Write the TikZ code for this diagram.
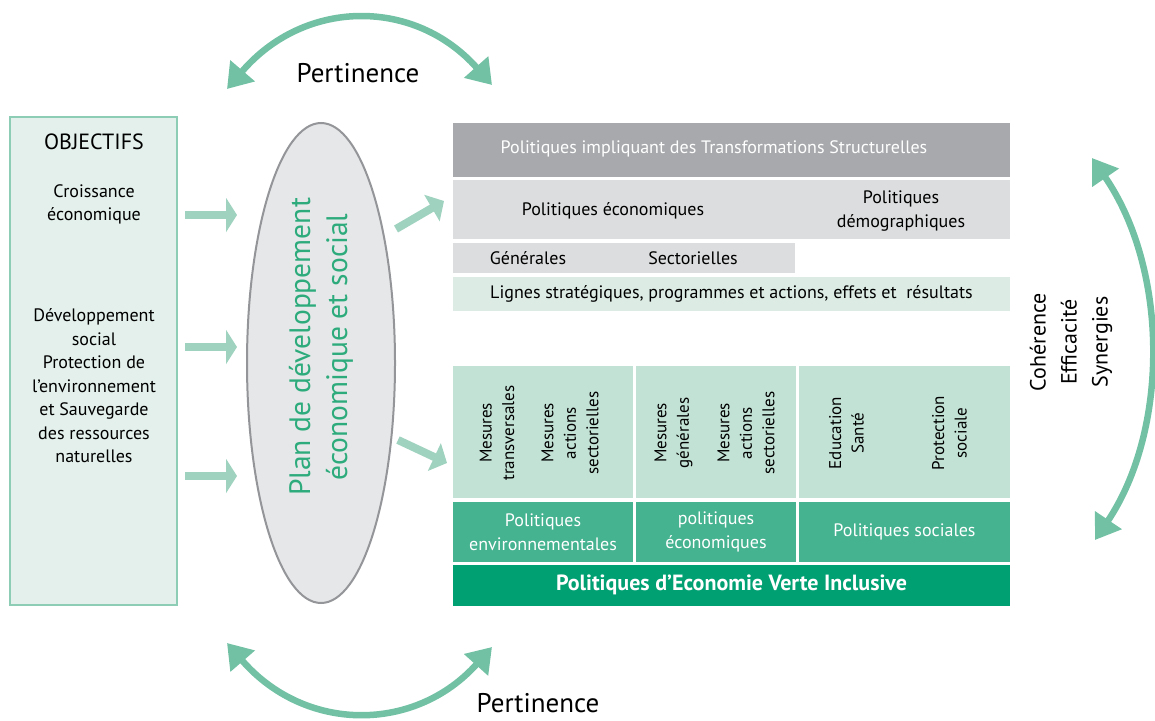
\documentclass[tikz,border=0pt]{standalone}
\usepackage{fontspec}
\setmainfont{PT Sans}
\usetikzlibrary{arrows.meta,shapes.geometric}

\definecolor{arcgreen}{HTML}{72C1A4}
\definecolor{softgreen}{HTML}{A0D3BF}
\definecolor{objfill}{HTML}{E3F0EB}
\definecolor{objline}{HTML}{8DCDB5}
\definecolor{ellfill}{HTML}{E6E7E8}
\definecolor{ellline}{HTML}{939598}
\definecolor{plangreen}{HTML}{2DAB7C}
\definecolor{bardark}{HTML}{A7A9AC}
\definecolor{barlight}{HTML}{DCDDDE}
\definecolor{rowmint}{HTML}{DCECE5}
\definecolor{cellmint}{HTML}{C3E2D6}
\definecolor{cellmid}{HTML}{45B290}
\definecolor{celldeep}{HTML}{00A073}

\tikzset{
  txt/.style={inner sep=0pt, align=center, font=\fontsize{18}{23.5}\selectfont},
  vtxt/.style={inner sep=0pt, align=center, rotate=90, font=\fontsize{17}{22.5}\selectfont},
  panel/.style={inner sep=0pt, align=center},
  blockarrow/.style={draw=softgreen, line width=8pt, -{Triangle[length=11pt,width=34pt]}},
  slantarrow/.style={draw=softgreen, line width=8pt, -{Triangle[length=14pt,width=30pt]}},
  arcarrow/.style={draw=arcgreen, line width=6.5pt,
    {Triangle[length=24pt,width=31pt]}-{Triangle[length=24pt,width=31pt]}},
}

\begin{document}
\begin{tikzpicture}[x=1pt,y=-1pt]
\useasboundingbox (0,0) rectangle (1155,720);

% Objectives column
\node[panel, fill=objfill, draw=objline, line width=2pt,
      minimum width=167pt, minimum height=488pt] (obj) at (93.5,361) {};
\node[txt, font=\fontsize{22}{24}\selectfont] (objtitle) at (94,142) {OBJECTIFS};
\node[txt] (objgrowth) at (94,204.5) {Croissance\\économique};
\node[txt] (objsocial) at (94,386) {Développement\\social\\Protection de\\l'environnement\\et Sauvegarde\\des ressources\\naturelles};

% Arrows into the plan
\coordinate (in1s) at (185,215); \coordinate (in1e) at (237,215);
\coordinate (in2s) at (185,347); \coordinate (in2e) at (237,347);
\coordinate (in3s) at (185,476); \coordinate (in3e) at (237,476);
\draw[blockarrow] (in1s) -- (in1e);
\draw[blockarrow] (in2s) -- (in2e);
\draw[blockarrow] (in3s) -- (in3e);

% Development plan
\node[ellipse, draw=ellline, line width=2pt, fill=ellfill, inner sep=0pt,
      minimum width=148pt, minimum height=480pt] (plan) at (321,363) {};
\node[inner sep=0pt, align=center, rotate=90, text=plangreen,
      font=\fontsize{29.5}{37}\selectfont] (plantext) at (321,347)
      {Plan de développement\\économique et social};

% Arrows out of the plan
\coordinate (out1s) at (396,229); \coordinate (out1e) at (444,201);
\coordinate (out2s) at (398,440); \coordinate (out2e) at (447,463);
\draw[slantarrow] (out1s) -- (out1e);
\draw[slantarrow] (out2s) -- (out2e);

% Upper block: structural transformation policies
\node[panel, fill=bardark, minimum width=557pt, minimum height=54pt] (struct) at (731.5,150) {};
\node[txt, text=white] (structtext) at (714,149)
      {Politiques impliquant des Transformations Structurelles};
\node[panel, fill=barlight, minimum width=557pt, minimum height=59pt] (econrow) at (731.5,209.5) {};
\node[txt] (econ) at (613,211) {Politiques économiques};
\node[txt] (demo) at (901,211) {Politiques\\démographiques};
\node[panel, fill=barlight, minimum width=342pt, minimum height=30pt] (subrow) at (624,257.5) {};
\node[txt] (gen) at (528,258) {Générales};
\node[txt] (sect) at (693,258) {Sectorielles};
\node[panel, fill=rowmint, font=\fontsize{18}{20}\selectfont,
      minimum width=557pt, minimum height=34pt] (lines) at (731.5,293.5)
      {Lignes stratégiques, programmes et actions, effets et ~résultats};

% Lower block: inclusive green economy policies
\node[panel, fill=cellmint, minimum width=180pt, minimum height=132pt] (envtop) at (543,432) {};
\node[panel, fill=cellmint, minimum width=160pt, minimum height=132pt] (ecotop) at (716,432) {};
\node[panel, fill=cellmint, minimum width=211pt, minimum height=132pt] (soctop) at (904.5,432) {};

\node[vtxt] (m1) at (497,433) {Mesures\\transversales};
\node[vtxt] (m2) at (570,433) {Mesures\\actions\\sectorielles};
\node[vtxt] (m3) at (673.5,433) {Mesures\\générales};
\node[vtxt] (m4) at (746,433) {Mesures\\actions\\sectorielles};
\node[vtxt] (m5) at (846.5,433) {Education\\Santé};
\node[vtxt] (m6) at (949.5,433) {Protection\\sociale};

\node[panel, fill=cellmid, text=white, font=\fontsize{18}{24.5}\selectfont,
      minimum width=180pt, minimum height=60pt] (envpol) at (543,532)
      {Politiques\\environnementales};
\node[panel, fill=cellmid, text=white, font=\fontsize{18}{24.5}\selectfont,
      minimum width=160pt, minimum height=60pt] (ecopol) at (716,532)
      {politiques\\économiques};
\node[panel, fill=cellmid, text=white, font=\fontsize{18}{24.5}\selectfont,
      minimum width=211pt, minimum height=60pt] (socpol) at (904.5,532)
      {Politiques sociales};
\node[panel, fill=celldeep, text=white, font=\fontsize{22}{24}\selectfont\bfseries,
      minimum width=557pt, minimum height=41pt] (green) at (731.5,585)
      {Politiques d’Economie Verte Inclusive};

% Relevance arcs
\coordinate (ptl) at (227,89);  \coordinate (ptr) at (492,85);
\coordinate (pbl) at (227,643); \coordinate (pbr) at (492,647);
\draw[arcarrow] (ptl) .. controls (305,-2) and (415,-2) .. (ptr);
\draw[arcarrow] (pbl) .. controls (305,733) and (415,733) .. (pbr);
\node[txt, font=\fontsize{27}{28}\selectfont] (perttop) at (358,73) {Pertinence};
\node[txt, font=\fontsize{27}{28}\selectfont] (pertbot) at (538,703) {Pertinence};

% Coherence arc
\coordinate (cht) at (1092,158); \coordinate (chb) at (1095,540);
\draw[arcarrow] (cht) .. controls (1169,270) and (1169,430) .. (chb);
\node[inner sep=0pt, align=center, rotate=90, font=\fontsize{22}{31}\selectfont]
      (coh) at (1071,342) {Cohérence\\Efficacité\\Synergies};
\end{tikzpicture}
\end{document}
